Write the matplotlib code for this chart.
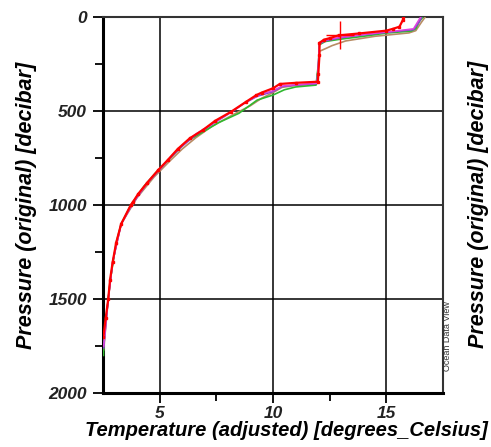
import numpy as np
from matplotlib import pyplot as plt

# profiles: pressure [decibar] and temperature [degC]
p_red = [0, 13, 49, 60, 70, 85, 95, 110, 118, 135, 200, 300, 342, 348, 354, 377, 400, 413, 450, 502,
         550, 600, 643, 700, 760, 812, 880, 940, 981, 1000, 1100, 1200, 1300, 1398, 1500, 1600, 1700]
t_red = [15.75, 15.73, 15.58, 15.3, 15.0, 13.8, 12.9, 12.5, 12.25, 12.05, 12.05, 12.0, 11.98, 11.0, 10.3,
         10.0, 9.5, 9.27, 8.8, 8.15, 7.45, 6.9, 6.33, 5.8, 5.35, 4.94, 4.45, 4.05, 3.83, 3.72, 3.3,
         3.08, 2.93, 2.81, 2.73, 2.62, 2.52]

p_green = [0, 22, 60, 72, 83, 100, 115, 128, 145, 250, 360, 370, 385, 413, 440, 475, 510, 560, 610,
           660, 720, 780, 830, 900, 1000, 1100, 1200, 1400, 1500, 1700, 1800]
t_green = [16.6, 16.45, 16.3, 16.1, 15.0, 14.0, 13.0, 12.3, 12.05, 12.0, 11.9, 11.0, 10.5, 10.0, 9.3,
           8.9, 8.5, 7.6, 6.9, 6.2, 5.7, 5.2, 4.8, 4.3, 3.72, 3.3, 3.08, 2.82, 2.73, 2.55, 2.52]

p_magenta = [0, 20, 60, 75, 90, 105, 120, 135, 250, 350, 358, 365, 390, 410, 450, 500, 560, 620,
             680, 740, 800, 880, 980, 1100, 1300, 1500, 1750]
t_magenta = [16.5, 16.4, 16.2, 15.2, 14.0, 13.0, 12.3, 12.05, 12.0, 11.95, 11.0, 10.4, 10.0, 9.4, 8.8,
             8.2, 7.4, 6.6, 6.0, 5.5, 5.05, 4.45, 3.85, 3.3, 2.93, 2.73, 2.53]

p_purple = [0, 25, 65, 78, 92, 108, 125, 140, 260, 352, 360, 368, 395, 420, 460, 505, 570, 630,
            690, 750, 810, 890, 990, 1100, 1300, 1500, 1760]
t_purple = [16.55, 16.45, 16.2, 15.1, 14.0, 13.0, 12.3, 12.05, 12.0, 11.93, 11.0, 10.4, 10.0, 9.3, 8.7,
            8.15, 7.3, 6.55, 5.95, 5.45, 5.0, 4.4, 3.82, 3.3, 2.93, 2.73, 2.53]

p_brown = [0, 25, 70, 82, 100, 125, 150, 164, 180, 260, 355, 362, 372, 400, 430, 470, 520, 580,
           640, 700, 770, 850, 960, 1100, 1300, 1500, 1770]
t_brown = [16.7, 16.55, 16.3, 16.0, 14.5, 13.2, 12.6, 12.35, 12.05, 12.0, 11.92, 11.0, 10.4, 10.0, 9.5,
           9.0, 8.2, 7.3, 6.6, 6.0, 5.4, 4.75, 4.0, 3.3, 2.93, 2.73, 2.53]

# station marker
t_mark = [12.94]
p_mark = [93]

font = 'Liberation Sans'

fig = plt.figure(figsize=(4.91, 4.47), dpi=100)
ax = fig.add_axes([103/491, 1-393/447, 340/491, 375.5/447])

ax.plot(t_brown, p_brown, color='#b88c64', lw=1.2, zorder=3)
ax.plot(t_green, p_green, color='#2fb82f', lw=1.2, zorder=3)
ax.plot(t_purple, p_purple, color='#8844cc', lw=1.1, zorder=3)
ax.plot(t_magenta, p_magenta, color='#e040e0', lw=1.1, zorder=3)
ax.plot(t_red, p_red, color='#ff0000', lw=1.6, marker='s', ms=1.8, zorder=4)
ax.plot(t_mark, p_mark, '+', color='#ff0000', ms=20, mew=1.0, zorder=5)

ax.set_xlim(2.5, 17.5)
ax.set_ylim(2000, 0)
ax.set_xticks([5, 10, 15])
ax.set_xticks([7.5, 12.5], minor=True)
ax.set_yticks([0, 500, 1000, 1500, 2000])
ax.set_yticks([250, 750, 1250, 1750], minor=True)
ax.grid(True, which='major', color='black', lw=1.1)
ax.set_axisbelow(True)

for s in ['left', 'bottom']:
    ax.spines[s].set_linewidth(2.2)
for s in ['top', 'right']:
    ax.spines[s].set_linewidth(1.5)
    ax.spines[s].set_color('#333333')

ax.tick_params(which='both', direction='out', width=1.3, color='black')
ax.tick_params(which='major', length=7)
ax.tick_params(which='minor', length=6)
ax.tick_params(axis='x', which='major', pad=2)
ax.tick_params(axis='y', which='major', pad=4.5)
for lab in ax.get_xticklabels() + ax.get_yticklabels():
    lab.set_fontfamily(font)
    lab.set_fontweight('bold')
    lab.set_fontstyle('italic')
    lab.set_fontsize(12.5)
    lab.set_color('#222222')

ax.set_xlabel('Temperature (adjusted) [degrees_Celsius]', fontfamily=font, fontweight='bold',
              fontstyle='italic', fontsize=14.5, labelpad=-1)
ax.xaxis.set_label_coords(0.54, -0.075)
ax.set_ylabel('Pressure (original) [decibar]', fontfamily=font, fontweight='bold',
              fontstyle='italic', fontsize=15.5, labelpad=8)

fig.text(447/491, 1-336/447, 'Ocean Data View', rotation=90, fontfamily=font, fontsize=6.5,
         ha='center', va='center', color='#333333')
fig.text(468/491, 1-204/447, 'Pressure (original) [decibar]', rotation=90, fontfamily=font,
         fontweight='bold', fontstyle='italic', fontsize=15.5, ha='left', va='center')

fig.savefig('out.png', dpi=100)
